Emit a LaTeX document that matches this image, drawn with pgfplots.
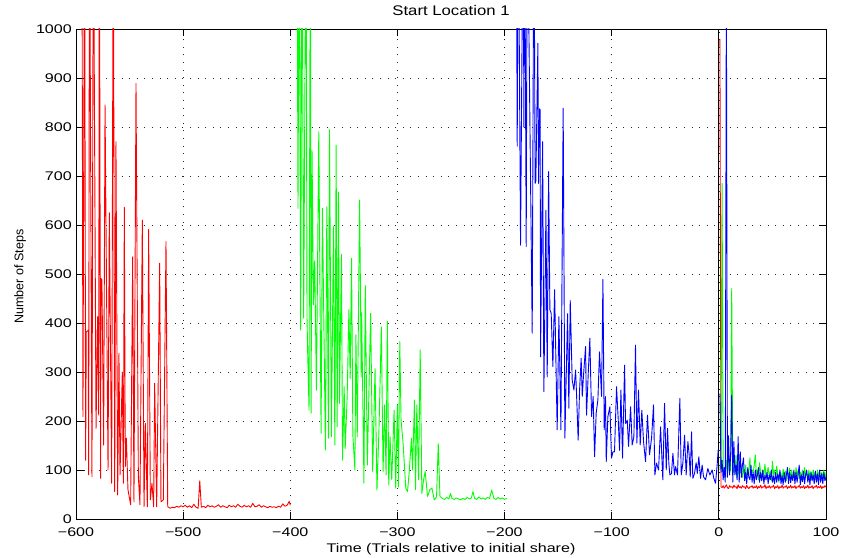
\documentclass[border=0pt]{standalone}
\usepackage{pgfplots}
\usepackage{pgfplotstable}
\usepackage{graphicx}
\pgfplotsset{compat=1.18}
\usepackage{fontspec}
\setmainfont{Liberation Sans}
\newcommand\hs[1]{\scalebox{1.28}[1]{#1}}
\definecolor{mred}{RGB}{255,0,0}
\definecolor{mgreen}{RGB}{0,255,0}
\definecolor{mblue}{RGB}{0,0,255}

\pgfplotstableread{
x r g b
1 980 100 256
2 66 130 95
3 64 685 120
4 68 110 80
5 63 85 105
6 66 95 75
7 70 120 1100
8 64 90 85
9 62 135 170
10 68 95 90
11 65 100 130
12 66 471 253
13 63 90 75
14 69 105 158
15 65 95 90
16 66 130 110
17 62 85 80
18 70 100 168
19 64 90 75
20 66 120 137
21 63 95 85
22 68 85 110
23 65 105 125
24 66 90 78
25 62 110 95
26 69 80 72
27 64 100 105
28 62 95 85
29 66 125 80
30 65 85 110
31 68 100 75
32 63 95 95
33 66 110 72
34 64 131 100
35 68 90 80
36 62 100 90
37 66 80 105
38 64 115 75
39 69 95 95
40 63 80 78
41 66 100 100
42 65 90 72
43 70 112 90
44 62 85 80
45 66 95 95
46 64 105 72
47 68 88 90
48 63 97 80
49 66 78 100
50 65 118 75
51 69 90 88
52 62 100 72
53 66 82 95
54 64 108 75
55 68 90 92
56 62 75 78
57 66 95 100
58 64 93 72
59 69 80 88
60 63 102 70
61 66 85 95
62 65 98 75
63 68 78 90
64 62 95 105
65 66 88 72
66 64 104 96
67 69 80 74
68 63 100 90
69 66 85 78
70 64 95 100
71 68 78 72
72 62 105 95
73 66 88 75
74 65 100 92
75 69 82 110
76 63 95 70
77 66 86 90
78 64 100 76
79 68 80 98
80 62 105 72
81 66 88 90
82 64 95 100
83 69 78 75
84 63 100 92
85 66 85 70
86 64 97 95
87 68 80 78
88 62 100 90
89 66 86 72
90 65 95 98
91 69 80 75
92 63 100 92
93 66 85 70
94 64 97 100
95 68 78 75
96 62 95 92
97 66 86 72
98 64 100 95
99 68 80 78
100 65 95 85
}\post

\begin{document}
\begin{tikzpicture}
\begin{axis}[
  at={(0,0)}, anchor=south west,
  scale only axis, width=750bp, height=490bp,
  xmin=-600, xmax=100, ymin=0, ymax=1000,
  xtick={-600,-500,-400,-300,-200,-100,0,100},
  xticklabels={\hs{−600},\hs{−500},\hs{−400},\hs{−300},\hs{−200},\hs{−100},\hs{0},\hs{100}},
  ytick={0,100,200,300,400,500,600,700,800,900,1000},
  yticklabels={\hs{0},\hs{100},\hs{200},\hs{300},\hs{400},\hs{500},\hs{600},\hs{700},\hs{800},\hs{900},\hs{1000}},
  tick align=inside, major tick length=7.5bp,
  tick style={black, line width=0.8bp},
  axis line style={black, line width=0.8bp},
  grid=major,
  grid style={black!85, line width=0.6bp, dash pattern=on 1bp off 6.6bp},
  tick label style={font=\fontsize{12.6}{14}\selectfont},
  xticklabel style={anchor=base, yshift=-17.7bp},
  yticklabel style={anchor=east, inner sep=4bp},
  title={\scalebox{1.2}[1]{Start Location 1}},
  title style={at={(axis description cs:0.5,1)}, anchor=base, yshift=7.5bp, font=\fontsize{14}{16}\selectfont},
  xlabel={\hs{Time (Trials relative to initial share)}},
  xlabel style={at={(axis description cs:0.5,0)}, anchor=base, yshift=-33bp, font=\fontsize{12.6}{14}\selectfont},
  ylabel={Number of Steps},
  ylabel style={at={(axis description cs:-0.0703,0.495)}, anchor=base, font=\fontsize{12.6}{14}\selectfont},
  every axis plot/.append style={line width=0.9bp, line join=round},
]
\addplot[black, line width=1bp] coordinates {(0,0) (0,1000)};

% red
\addplot[mred] coordinates {
(-594.5,1300) (-593.5,209) (-592,1300) (-591,120) (-590.4,382) (-588.6,385) (-588.2,90) (-587.4,1300)
(-585.1,86) (-583.8,1300) (-581.3,185) (-579.8,413) (-578.8,212) (-578.2,1300) (-577,83) (-576.7,491)
(-575.8,488) (-574.2,151) (-572.9,845) (-570.1,100) (-568.9,625) (-566.7,73) (-565.2,1300) (-563.9,56)
(-562.7,770) (-561.1,49) (-559.9,338) (-558.9,90) (-556.8,300) (-555.8,73) (-554.9,636) (-554,107)
(-553,165) (-551.5,60) (-549,29) (-547.1,535) (-545.9,35) (-544,889) (-541.8,86) (-540.3,29)
(-538.1,610) (-536.5,25) (-535.3,195) (-533.4,25) (-532.2,591) (-530.6,39) (-529.1,73) (-527.5,25)
(-526.6,277) (-524.7,25) (-521.9,522) (-520.7,35) (-518.5,39) (-516,566) (-514.4,25)
(-512,22) (-510,24) (-508,23) (-506,26) (-504,24) (-502,27) (-500,25) (-498,28) (-496,24) (-494,27)
(-492,23) (-490,30) (-488,24) (-486,22) (-484.5,78) (-483,24) (-481,26) (-479,23) (-477,28) (-475,25)
(-473,27) (-471,24) (-469,26) (-467,29) (-465,24) (-463,27) (-461,25) (-459,23) (-457,28) (-455,25)
(-453,27) (-451,24) (-449,30) (-447,26) (-445,24) (-443,28) (-441,25) (-439,27) (-437,24) (-435,32)
(-433,25) (-431,26) (-429,29) (-427,24) (-425,27) (-423,25) (-421,23) (-419,26) (-417,24) (-415,25)
(-413,23) (-411,26) (-409,24) (-407,31) (-405,26) (-403,28) (-401,36) (-400,28)
};

% green
\addplot[mgreen] coordinates {
(-393.75,1300) (-392.8,634) (-391.6,1300) (-390.3,386) (-389.1,1300) (-387.5,410) (-385.3,1300) (-384.4,413)
(-383.75,338) (-382.5,222) (-381.25,1300) (-380.6,216) (-379.7,752) (-378.4,437) (-377.2,527) (-375.6,263)
(-373.4,790) (-371.25,175) (-370,634) (-367.2,141) (-365.9,637) (-364.4,165) (-363.4,794) (-361.6,168)
(-359.7,597) (-358.4,151) (-357.2,763) (-356.25,188) (-355,667) (-354.1,236) (-352.2,540) (-351.25,120)
(-349.7,270) (-348.75,144) (-346.9,250) (-345.3,427) (-344.1,287) (-342.8,532) (-341.6,171) (-339.7,100)
(-338.75,376) (-337.5,168) (-335.3,651) (-333.75,290) (-333.4,421) (-331.25,73) (-330,477) (-328.1,110)
(-325,420) (-323.1,97) (-320.9,307) (-319.1,59) (-317.2,185) (-315,392) (-313.4,97) (-311.9,233)
(-310.6,90) (-309.4,403) (-308.1,69) (-306.9,168) (-305.3,80) (-303.1,222) (-301.6,63) (-300,233)
(-299.1,65) (-297.8,362) (-296.6,202) (-294.7,154) (-292.2,63) (-290.6,56) (-289.1,93) (-286.9,165)
(-285.9,100) (-284.1,243) (-283.1,60) (-281.9,233) (-280.3,80) (-278.75,345) (-277.2,52) (-275.6,80)
(-274.1,97) (-271.9,46) (-269.7,60) (-267.8,63) (-265.6,39) (-263.5,45) (-261.9,154) (-260.3,46)
(-258,42) (-256,40) (-254,44) (-252,41) (-250.5,52) (-249,42) (-247,40) (-245,43) (-243,41) (-241,39)
(-239,42) (-237,40) (-235,44) (-233,41) (-231,43) (-229.5,56) (-228,42) (-226,40) (-224,45) (-222,41)
(-220,43) (-218,40) (-216,44) (-214,42) (-212,59) (-210,42) (-208,40) (-206,44) (-204,41) (-202,43)
(-200,40) (-198,42)
};

% blue
\addplot[mblue] coordinates {
(-189.1,1300) (-188.2,761) (-187.2,1300) (-185.1,559) (-182.6,1300) (-182,800) (-181.3,1300) (-179.8,556)
(-178.8,1300) (-174.2,379) (-172.6,1300) (-171.5,685) (-170.8,690) (-168.9,971) (-168.3,685) (-167.3,837)
(-166.8,835) (-166.4,331) (-164.5,770) (-163.3,260) (-161.4,630) (-160.2,290) (-158.9,709) (-157.7,427)
(-156.5,420) (-154.9,311) (-153.3,468) (-150.9,182) (-149.3,413) (-147.4,182) (-145.3,838) (-143.7,165)
(-141.2,419) (-140,226) (-138.7,446) (-136.9,284) (-135.3,263) (-133.7,304) (-132.8,253) (-131.3,161)
(-130,263) (-128.5,328) (-127.5,250) (-126.3,294) (-124.4,352) (-123.5,212) (-121.9,297) (-120.4,369)
(-118.8,209) (-117.3,250) (-116,127) (-114.5,216) (-112.9,243) (-111.4,341) (-109.5,250) (-108.2,489)
(-107,182) (-105.8,250) (-105.1,117) (-103.6,209) (-101.7,229) (-100.2,124) (-98.9,137) (-97.4,137)
(-95.5,270) (-93.9,202) (-92.7,140) (-91.4,263) (-89.9,124) (-88,314) (-87.1,195) (-85.5,202)
(-84.3,148) (-82.4,229) (-80.9,151) (-79.3,168) (-77.8,355) (-76.5,155) (-75,263) (-73.4,151)
(-71.9,222) (-70.3,158) (-68.4,117) (-66.6,212) (-64.7,131) (-62.8,165) (-61,233) (-59.7,90)
(-58.2,114) (-56.3,100) (-54.4,188) (-52.3,80) (-50.7,236) (-49.1,100) (-47.9,185) (-46.7,114)
(-45.7,90) (-44.2,93) (-42.9,134) (-41.4,90) (-40.4,107) (-38.6,90) (-36.4,246) (-35.1,90)
(-33.6,114) (-32,171) (-30.5,90) (-28.9,158) (-27.7,131) (-26.7,86) (-25.5,178) (-24.3,83)
(-22.7,93) (-21.2,115) (-20.1,93) (-18.7,127) (-17.1,83) (-15.6,110) (-14.3,86) (-12.4,80)
(-10.3,103) (-8.4,90) (-6.2,100) (-4.7,83) (-3.1,73) (-1.6,110) (-0.6,141)
};

% after initial share
\addplot[mred] table[x=x, y=r] {\post};
\addplot[mgreen] table[x=x, y=g] {\post};
\addplot[mblue] table[x=x, y=b] {\post};
\end{axis}
\pgfresetboundingbox
\path[use as bounding box] (-76bp,-39bp) rectangle (765bp,519bp);
\end{tikzpicture}
\end{document}
